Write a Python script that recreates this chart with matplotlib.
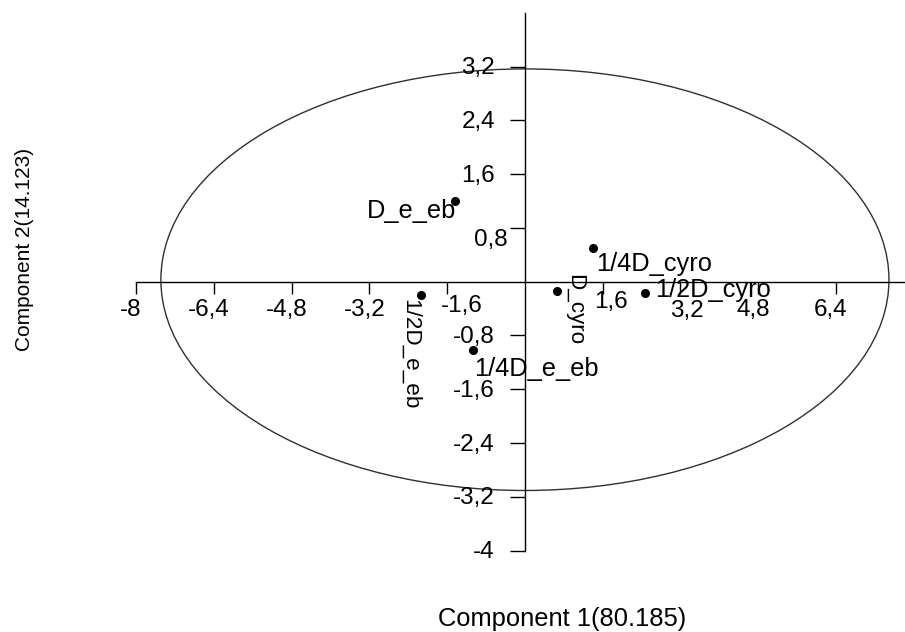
import matplotlib
matplotlib.use('Agg')
import matplotlib.pyplot as plt
from matplotlib.patches import Ellipse

plt.rcParams['font.family'] = ['Liberation Sans', 'DejaVu Sans']
plt.rcParams['axes.unicode_minus'] = False

# scores
labels = ['D_e_eb', '1/4D_cyro', 'D_cyro', '1/4D_e_eb', '1/2D_e_eb', '1/2D_cyro']
comp1 = [-1.43, 1.41, 0.66, -1.06, -2.13, 2.47]
comp2 = [1.20, 0.50, -0.14, -1.01, -0.20, -0.17]

x_ticks = [-8, -6.4, -4.8, -3.2, -1.6, 1.6, 3.2, 4.8, 6.4]
y_ticks = [3.2, 2.4, 1.6, 0.8, -0.8, -1.6, -2.4, -3.2, -4]

# 95% ellipse
ell_center = (0.0, 0.03)
ell_semi = (7.49, 3.135)

var1 = '80.185'
var2 = '14.123'

PX = 72 / 100  # points per pixel


def off(dx, dy):
    # pixel offsets (right, down) -> offset points
    return (dx * PX, -dy * PX)


# label placement as in the original (px: dx, dy, ha, rotation)
point_style = {
    'D_e_eb':    (1, 17, 'right', 0),
    '1/4D_cyro': (3, 23, 'left', 0),
    'D_cyro':    (12, -17, 'left', -90),
    '1/4D_e_eb': (1, 26.5, 'left', 0),
    '1/2D_e_eb': (-16.5, 4, 'left', -90),
    '1/2D_cyro': (10, 3.5, 'left', 0),
}
x_nudge = {-1.6: (15, 30), 1.6: (8, 26.5), 3.2: (6.5, 35)}
y_nudge = {0.8: (-17, 18.5)}

fig = plt.figure(figsize=(9.05, 6.32), dpi=100)
ax = fig.add_axes([0, 0, 1, 1])
ax.set_xlim(-10.80, 7.82)
ax.set_ylim(-5.21, 4.19)
ax.patch.set_visible(False)

for s in ['top', 'right']:
    ax.spines[s].set_visible(False)
ax.spines['bottom'].set_position(('data', 0))
ax.spines['left'].set_position(('data', 0))
ax.spines['bottom'].set_bounds(min(x_ticks), -min(x_ticks))
ax.spines['left'].set_bounds(min(y_ticks), -min(y_ticks))
for s in ['bottom', 'left']:
    ax.spines[s].set_linewidth(1.0)

ax.set_xticks(x_ticks)
ax.set_yticks(y_ticks)
ax.tick_params(axis='x', direction='out', length=8.4, width=1.0, labelbottom=False)
ax.tick_params(axis='y', direction='out', length=10.8, width=1.0, labelleft=False)

for v in x_ticks:
    dx, dy = x_nudge.get(v, (-5, 34.5))
    ax.annotate(f'{v:g}'.replace('.', ','), (v, 0), xytext=off(dx, dy),
                textcoords='offset points', ha='center', va='baseline', fontsize=17.5)
for v in y_ticks:
    dx, dy = y_nudge.get(v, (-30, 7.5))
    ax.annotate(f'{v:g}'.replace('.', ','), (0, v), xytext=off(dx, dy),
                textcoords='offset points', ha='right', va='baseline', fontsize=17.5)

ax.add_patch(Ellipse(ell_center, 2 * ell_semi[0], 2 * ell_semi[1],
                     fill=False, edgecolor='#303030', lw=1.0))

ax.plot(comp1, comp2, 'o', color='black', ms=5.5, ls='none')

for name, x, y in zip(labels, comp1, comp2):
    dx, dy, ha, rot = point_style[name]
    fs = 16.2 if rot else 18.3
    ax.annotate(name, (x, y), xytext=off(dx, dy), textcoords='offset points',
                ha=ha, va='baseline', rotation=rot, rotation_mode='anchor', fontsize=fs)

fig.text(562.5 / 905, 1 - 626 / 632, f'Component 1({var1})', ha='center', va='baseline', fontsize=18.4)
fig.text(25 / 905, 1 - 249 / 632, f'Component 2({var2})', ha='center', va='center',
         rotation=90, fontsize=15)

fig.savefig('out.png', dpi=100)
